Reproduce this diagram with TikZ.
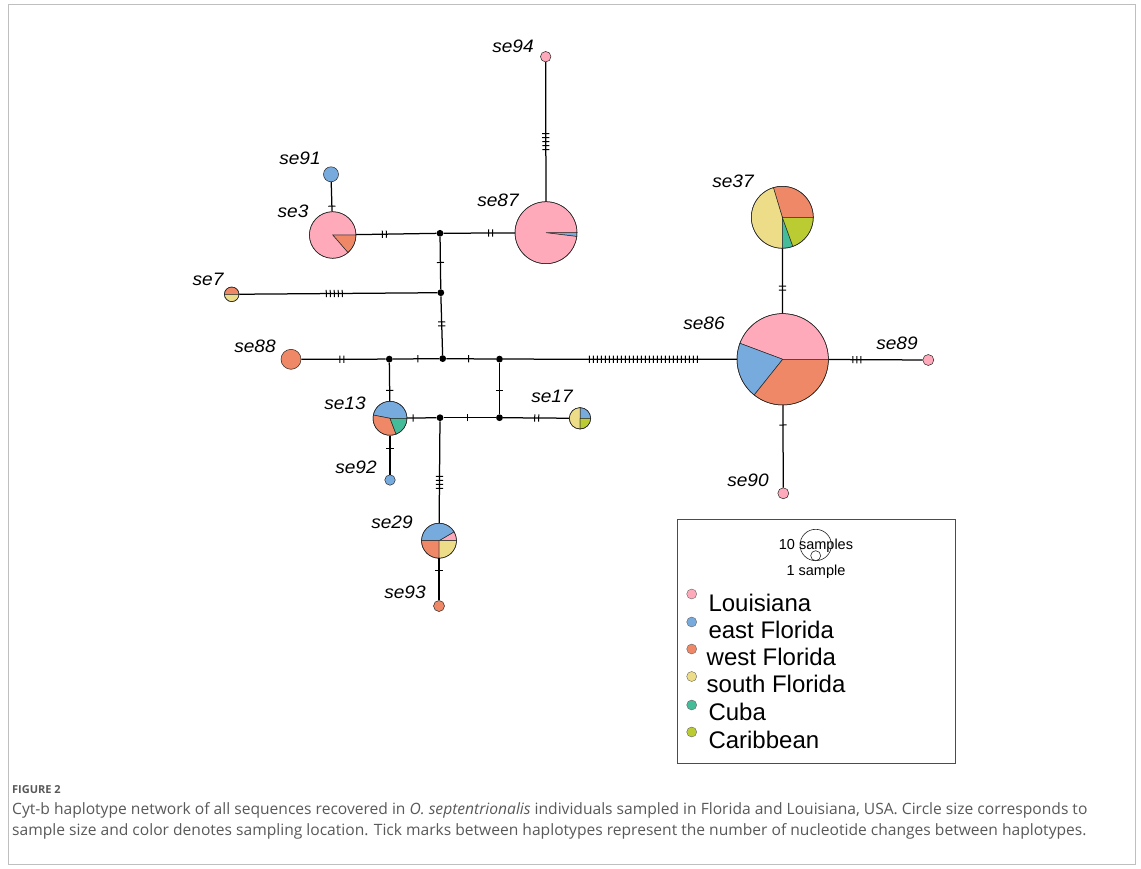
\documentclass[tikz,border=0pt]{standalone}
\usepackage{fontspec}
\setmainfont{Liberation Sans}
\newfontfamily\capfont{Open Sans}
\usetikzlibrary{decorations.markings}
\definecolor{cLA}{HTML}{FFAABB}
\definecolor{cEF}{HTML}{77AADD}
\definecolor{cWF}{HTML}{EE8866}
\definecolor{cSF}{HTML}{EEDD88}
\definecolor{cCU}{HTML}{44BB99}
\definecolor{cCA}{HTML}{BBCC33}
\definecolor{capgray}{HTML}{595959}
\newcommand\hpie[5]{%
  \filldraw[fill=#5, draw=black!85, line width=0.5pt] (#1) -- ++(#3:#2pt) arc[start angle=#3, end angle=#4, radius=#2pt] -- cycle;}
\begin{document}
\begin{tikzpicture}[x=1pt,y=-1pt,
  hap/.style={circle, draw=black!85, line width=0.5pt, inner sep=0pt, minimum size=#1},
  junc/.style={circle, fill=black, inner sep=0pt, minimum size=6.8pt},
  edge/.style={draw=black, line width=1.25pt},
  tk/.style 2 args={postaction={decorate, decoration={markings, mark=at position #2 with {\foreach \k in {1,...,#1}{\draw[line width=1pt, black] ({(\k-(#1+1)/2)*4pt},-3.6pt) -- ++(0pt,7.2pt);}}}}},
  lab/.style={inner sep=0pt, font=\fontsize{18}{20}\selectfont\itshape, xscale=1.06},
  legtxt/.style={anchor=west, inner sep=0pt, font=\fontsize{24}{28}\selectfont},
  legdot/.style={circle, draw=black!60, line width=0.4pt, fill=#1, inner sep=0pt, minimum size=10pt},
  captxt/.style={anchor=west, inner sep=0pt, text=capgray, font=\capfont\fontsize{15.6}{18}\selectfont}
]
\useasboundingbox (0,0) rectangle (1141,869);
\fill[white] (0,0) rectangle (1141,869);
\draw[black!25, line width=0.8pt] (8.5,4.5) rectangle (1135.5,864.5);

% centres
\coordinate (c3) at (332.7,235);
\coordinate (c87) at (546,232.7);
\coordinate (c86) at (782.7,359.3);
\coordinate (c37) at (782.3,217.3);
\coordinate (c13) at (390,418.3);
\coordinate (c29) at (439,540.7);
\coordinate (c17) at (580,418.3);
\coordinate (c7) at (231.7,294.3);

% pie wedges
\hpie{c3}{23.3}{-49}{0}{cWF}
\hpie{c3}{23.3}{0}{311}{cLA}
\hpie{c87}{31}{-7}{0}{cEF}
\hpie{c87}{31}{0}{353}{cLA}
\hpie{c86}{45.7}{0}{159.5}{cLA}
\hpie{c86}{45.7}{159.5}{231.4}{cEF}
\hpie{c86}{45.7}{231.4}{360}{cWF}
\hpie{c37}{31}{0}{106.7}{cWF}
\hpie{c37}{31}{106.7}{270}{cSF}
\hpie{c37}{31}{270}{290}{cCU}
\hpie{c37}{31}{290}{360}{cCA}
\hpie{c13}{17}{0}{169}{cEF}
\hpie{c13}{17}{169}{291}{cWF}
\hpie{c13}{17}{291}{360}{cCU}
\hpie{c29}{17.5}{0}{30.5}{cLA}
\hpie{c29}{17.5}{30.5}{180}{cEF}
\hpie{c29}{17.5}{180}{270}{cWF}
\hpie{c29}{17.5}{270}{360}{cSF}
\hpie{c17}{10.7}{0}{90}{cEF}
\hpie{c17}{10.7}{90}{270}{cSF}
\hpie{c17}{10.7}{270}{360}{cCA}
\hpie{c7}{7.3}{0}{180}{cWF}
\hpie{c7}{7.3}{180}{360}{cSF}

% haplotype nodes
\node[hap=46.6pt] (se3) at (c3) {};
\node[hap=62pt] (se87) at (c87) {};
\node[hap=91.4pt] (se86) at (c86) {};
\node[hap=62pt] (se37) at (c37) {};
\node[hap=34pt] (se13) at (c13) {};
\node[hap=35pt] (se29) at (c29) {};
\node[hap=21.4pt] (se17) at (c17) {};
\node[hap=14.6pt] (se7) at (c7) {};
\node[hap=15pt, fill=cEF] (se91) at (331,174.3) {};
\node[hap=10.5pt, fill=cLA] (se94) at (545.7,56.7) {};
\node[hap=20pt, fill=cWF] (se88) at (291,359.3) {};
\node[hap=11pt, fill=cLA] (se89) at (928.3,360) {};
\node[hap=11pt, fill=cLA] (se90) at (783.3,493.3) {};
\node[hap=10.5pt, fill=cEF] (se92) at (390,480) {};
\node[hap=11pt, fill=cWF] (se93) at (439,606) {};

% junctions
\node[junc] (J1) at (440,233.3) {};
\node[junc] (J2) at (440.8,292.7) {};
\node[junc] (J3) at (442.7,358.6) {};
\node[junc] (J4) at (389.3,359.1) {};
\node[junc] (J5) at (499.5,359.1) {};
\node[junc] (J6) at (440,417.7) {};
\node[junc] (J7) at (499.5,417.7) {};

% edges
\draw[edge, tk={2}{0.35}] (se3) -- (J1);
\draw[edge, tk={2}{0.66}] (J1) -- (se87);
\draw[edge, tk={1}{0.82}] (se91) -- (se3);
\draw[edge, tk={5}{0.57}] (se94) -- (se87);
\draw[edge, tk={1}{0.49}] (J1) -- (J2);
\draw[edge, tk={5}{0.48}] (se7) -- (J2);
\draw[edge, tk={2}{0.47}] (J2) -- (J3);
\draw[edge, tk={2}{0.48}] (se88) -- (J4);
\draw[edge, tk={1}{0.54}] (J4) -- (J3);
\draw[edge, tk={1}{0.45}] (J3) -- (J5);
\draw[edge, tk={28}{0.60}] (J5) -- (se86);
\draw[edge, tk={3}{0.30}] (se86) -- (se89);
\draw[edge, tk={2}{0.61}] (se37) -- (se86);
\draw[edge, tk={1}{0.24}] (se86) -- (se90);
\draw[edge, tk={1}{0.72}] (J4) -- (se13);
\draw[edge, tk={1}{0.32}] (se13) -- (se92);
\draw[edge, tk={1}{0.20}] (se13) -- (J6);
\draw[edge, tk={1}{0.46}] (J6) -- (J7);
\draw[edge, tk={1}{0.55}] (J5) -- (J7);
\draw[edge, tk={2}{0.51}] (J7) -- (se17);
\draw[edge, tk={4}{0.60}] (J6) -- (se29);
\draw[edge, tk={1}{0.30}] (se29) -- (se93);

% labels
\node[lab] (l94) at (513,46) {se94};
\node[lab] (l91) at (300,158) {se91};
\node[lab] (l3) at (293,211) {se3};
\node[lab] (l87) at (498,200) {se87};
\node[lab] (l7) at (208,279) {se7};
\node[lab] (l88) at (255,346) {se88};
\node[lab] (l13) at (345,403) {se13};
\node[lab] (l92) at (356,467) {se92};
\node[lab] (l17) at (552,396) {se17};
\node[lab] (l29) at (392,522) {se29};
\node[lab] (l93) at (405,592) {se93};
\node[lab] (l37) at (733,181) {se37};
\node[lab] (l86) at (704,323) {se86};
\node[lab] (l89) at (897,343) {se89};
\node[lab] (l90) at (748,480) {se90};

% legend
\node[draw=black!70, line width=0.8pt, inner sep=0pt, minimum width=277.7pt, minimum height=243.6pt] (leg) at (816.3,641.5) {};
\node[circle, draw=black!85, line width=0.6pt, inner sep=0pt, minimum size=31.4pt] (s10) at (815.7,545) {};
\node[circle, draw=black!85, line width=0.6pt, inner sep=0pt, minimum size=10pt] (s1) at (815.7,555.7) {};
\node[inner sep=0pt, font=\fontsize{14.5}{16}\selectfont] (t10) at (816,546) {10 samples};
\node[inner sep=0pt, font=\fontsize{14.5}{16}\selectfont] (t1) at (816,572) {1 sample};
\node[legdot=cLA] (dLA) at (691.7,594) {};
\node[legdot=cEF] (dEF) at (691.7,622) {};
\node[legdot=cWF] (dWF) at (691.7,649) {};
\node[legdot=cSF] (dSF) at (691.7,676.5) {};
\node[legdot=cCU] (dCU) at (691.7,705) {};
\node[legdot=cCA] (dCA) at (691.7,732) {};
\node[legtxt] (tLA) at (708.3,603) {Louisiana};
\node[legtxt] (tEF) at (708.3,630) {east Florida};
\node[legtxt] (tWF) at (706.5,656.5) {west Florida};
\node[legtxt] (tSF) at (706.5,684) {south Florida};
\node[legtxt] (tCU) at (708.3,712) {Cuba};
\node[legtxt] (tCA) at (708.3,740) {Caribbean};

% caption
\node[anchor=west, inner sep=0pt, text=capgray, font=\capfont\bfseries\fontsize{11}{13}\selectfont] (fig) at (12,790) {FIGURE 2};
\node[captxt] (cap1) at (12,810.5) {Cyt-b haplotype network of all sequences recovered in \textit{O. septentrionalis} individuals sampled in Florida and Louisiana, USA. Circle size corresponds to};
\node[captxt] (cap2) at (12,831.5) {sample size and color denotes sampling location. Tick marks between haplotypes represent the number of nucleotide changes between haplotypes.};
\end{tikzpicture}
\end{document}
